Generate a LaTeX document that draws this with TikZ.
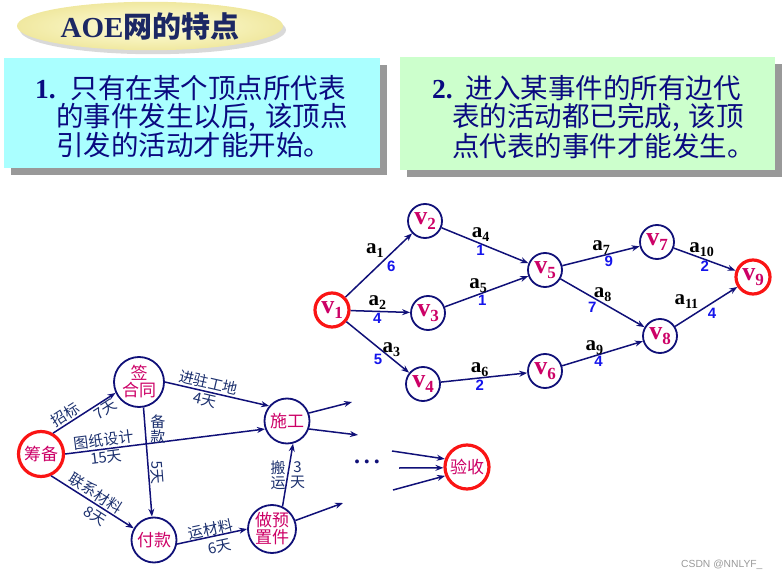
\documentclass[tikz,border=0pt]{standalone}
\usepackage{fontspec}
\setmainfont{Liberation Serif}
\newfontfamily\cjk{Noto Sans CJK SC}
\newfontfamily\arialf{Liberation Sans}
\usetikzlibrary{automata, positioning, arrows.meta, shapes.geometric, shadows}

\definecolor{navyline}{RGB}{16,16,120}
\definecolor{textnavy}{RGB}{10,10,128}
\definecolor{titleblue}{RGB}{28,40,100}
\definecolor{ringred}{RGB}{250,20,20}
\definecolor{nodecrim}{RGB}{204,0,102}
\definecolor{numblue}{RGB}{20,20,235}
\definecolor{labblue}{RGB}{28,48,110}
\definecolor{cyanbox}{RGB}{170,255,255}
\definecolor{greenbox}{RGB}{204,255,204}
\definecolor{ylight}{RGB}{255,255,222}
\definecolor{ydark}{RGB}{240,232,160}

% vertex and activity labels
\newcommand{\vx}[1]{{\fontsize{26}{26}\selectfont v}\raisebox{-5pt}{\fontsize{17}{17}\selectfont #1}}
\newcommand{\ax}[1]{{\fontsize{21}{21}\selectfont a}\raisebox{-4pt}{\fontsize{14}{14}\selectfont #1}}

\begin{document}
\begin{tikzpicture}[
  x=1pt, y=-1pt,
  >={Stealth[length=8pt, width=6pt]},
  every state/.style={draw=navyline, line width=1.8pt, circle, minimum size=34pt, inner sep=0pt, text=nodecrim, font=\bfseries},
  endpt/.style={draw=ringred, line width=3.2pt},
  bignode/.style={state, font=\cjk\fontsize{17}{17}\selectfont, align=center, minimum size=45pt},
  wlab/.style={font=\bfseries, text=black, inner sep=1pt},
  num/.style={font=\arialf\bfseries\fontsize{15}{15}\selectfont, text=numblue, inner sep=1pt},
  lab/.style={font=\cjk\fontsize{15}{15}\selectfont, text=labblue, inner sep=1.5pt},
  every edge/.style={draw=navyline, line width=1.5pt},
  infobox/.style={rectangle, text=textnavy, font=\cjk\fontsize{27.5}{28}\selectfont, align=left, inner ysep=0pt,
    drop shadow={shadow xshift=7pt, shadow yshift=-7pt, fill=black, opacity=.4}}
]
  \useasboundingbox (0,0) rectangle (782,580);

  % heading and the two rules
  \node[ellipse, minimum width=266pt, minimum height=46pt, inner color=ylight, outer color=ydark,
    drop shadow={shadow xshift=3pt, shadow yshift=-4pt, opacity=.3},
    text=titleblue, font=\bfseries\fontsize{29}{29}\selectfont] (title) at (150,26) {AOE{\cjk 网的特点}};

  \node[infobox, fill=cyanbox, minimum width=376pt, minimum height=110pt, text width=314pt, inner xsep=31pt] (rule1) at (192,113)
    {\rule{0pt}{30pt}{\rmfamily\bfseries 1.}\hspace{15pt}只有在某个顶点所代表\\ \hspace*{21pt}的事件发生以后,~该顶点\\ \hspace*{21pt}引发的活动才能开始。};
  \node[infobox, fill=greenbox, minimum width=375pt, minimum height=113pt, text width=311pt, inner xsep=32pt] (rule2) at (587.5,113.5)
    {\rule{0pt}{30pt}{\rmfamily\bfseries 2.}\hspace{13pt}进入某事件的所有边代\\ \hspace*{20pt}表的活动都已完成,~该顶\\ \hspace*{20pt}点代表的事件才能发生。};

  % AOE network
  \node[state, endpt] (v1) at (332,310) {\vx{1}};
  \node[state] (v2) at (425,221) {\vx{2}};
  \node[state] (v3) at (428,313) {\vx{3}};
  \node[state] (v4) at (423,384) {\vx{4}};
  \node[state] (v5) at (545,270) {\vx{5}};
  \node[state] (v6) at (545,371) {\vx{6}};
  \node[state] (v7) at (657,242) {\vx{7}};
  \node[state] (v8) at (660,336) {\vx{8}};
  \node[state, endpt] (v9) at (753,277) {\vx{9}};

  \path[->]
    (v1) edge node[wlab, pos=.6, above left] (a1) {\ax{1}} node[num, pos=.6, below right] (w1) {6} (v2)
    (v1) edge node[wlab, pos=.45, above] (a2) {\ax{2}} node[num, pos=.45, below] (w2) {4} (v3)
    (v1) edge node[wlab, pos=.55, right] (a3) {\ax{3}} node[num, pos=.6, below left] (w3) {5} (v4)
    (v2) edge node[wlab, pos=.45, above] (a4) {\ax{4}} node[num, pos=.45, below] (w4) {1} (v5)
    (v3) edge node[wlab, pos=.4, above] (a5) {\ax{5}} node[num, pos=.45, below] (w5) {1} (v5)
    (v4) edge node[wlab, pos=.45, above] (a6) {\ax{6}} node[num, pos=.45, below] (w6) {2} (v6)
    (v5) edge node[wlab, pos=.5, above] (a7) {\ax{7}} node[num, pos=.6, below] (w7) {9} (v7)
    (v5) edge node[wlab, pos=.5, above] (a8) {\ax{8}} node[num, pos=.45, below left] (w8) {7} (v8)
    (v6) edge node[wlab, pos=.4, above] (a9) {\ax{9}} node[num, pos=.45, below] (w9) {4} (v8)
    (v7) edge node[wlab, pos=.45, above] (a10) {\ax{10}} node[num, pos=.5, below] (w10) {2} (v9)
    (v8) edge node[wlab, pos=.4, above left] (a11) {\ax{11}} node[num, pos=.5, below right] (w11) {4} (v9);

  % project example
  \node[bignode, endpt] (chou) at (41,454) {筹备};
  \node[bignode, minimum size=50pt] (qian) at (139,382) {签\\合同};
  \node[bignode] (shi) at (287,421) {施工};
  \node[bignode] (fu) at (154,540) {付款};
  \node[bignode, minimum size=48pt] (zuo) at (272,529) {做预\\置件};
  \node[bignode, endpt, minimum size=44pt] (yan) at (467,467) {验收};
  \node[text=navyline, font=\bfseries\fontsize{24}{24}\selectfont] (more) at (367,462) {.\hspace{4pt}.\hspace{4pt}.};

  \coordinate (o1) at (352,402);
  \coordinate (o2) at (358,435);
  \coordinate (o3) at (343,503);
  \coordinate (i1) at (392,451);
  \coordinate (i2) at (399,468);
  \coordinate (i3) at (393,490);

  \path[->]
    (chou.60) edge node[lab, sloped, above, pos=.27] (l1) {招标} node[lab, sloped, below, pos=.76] (d1) {7天} (qian.205)
    (qian.east) edge node[lab, sloped, above, pos=.4] (l2) {进驻工地} node[lab, sloped, below, pos=.4] (d2) {4天} (shi.140)
    (chou.east) edge node[lab, sloped, above, pos=.2] (l3) {图纸设计} node[lab, sloped, below, pos=.2] (d3) {15天} (shi.200)
    (qian.-80) edge node[lab, right, pos=.2, xshift=3pt, align=center] (l4) {备\\款} node[lab, sloped, above, pos=.6] (d4) {5天} (fu.95)
    (chou.-65) edge node[lab, sloped, above, pos=.48] (l5) {联系材料} node[lab, sloped, below=2pt, pos=.6] (d5) {8天} (fu.150)
    (fu.-10) edge node[lab, sloped, above=-2pt, pos=.5] (l6) {运材料} node[lab, sloped, below=3pt, pos=.58] (d6) {6天} (zuo.180)
    (zuo.65) edge node[lab, left, align=center] (l7) {搬\\运} node[lab, right, align=center] (d7) {3\\天} (shi.-75)
    (shi.20) edge (o1)
    (shi.-20) edge (o2)
    (zuo.20) edge (o3)
    (i1) edge (yan.160)
    (i2) edge (yan.182)
    (i3) edge (yan.202);

  \node[font=\arialf\fontsize{10.3}{11}\selectfont, text=black!40, anchor=east] (csdn) at (766,565) {CSDN @NNLYF\_};
\end{tikzpicture}
\end{document}
